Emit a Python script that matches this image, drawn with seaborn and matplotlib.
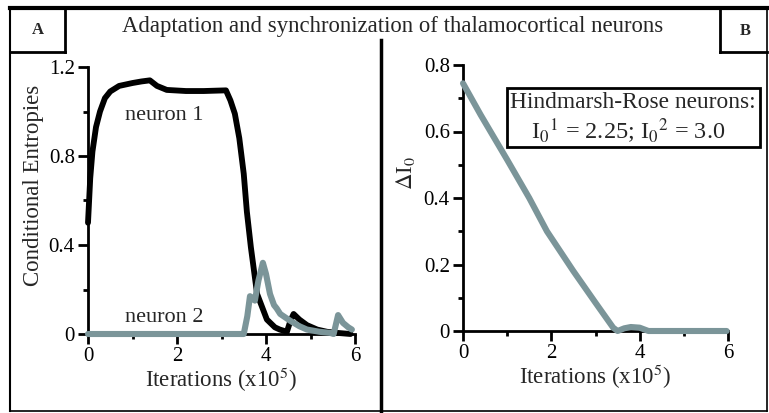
import numpy as np
import pandas as pd
import matplotlib
matplotlib.use("Agg")
import matplotlib.pyplot as plt
import seaborn as sns
from matplotlib.lines import Line2D
from matplotlib.patches import Rectangle

# ---------------- data ----------------
n1_x = [0.0, 0.05, 0.1, 0.18, 0.27, 0.38, 0.5, 0.7, 1.0, 1.2, 1.39, 1.55, 1.77, 2.2, 2.6, 3.1, 3.2, 3.3,
        3.4, 3.5, 3.57, 3.66, 3.8, 4.02, 4.2, 4.31, 4.47, 4.55, 4.62, 4.75, 4.92, 5.15, 5.37, 5.6, 5.9]
n1_y = [0.50, 0.70, 0.82, 0.93, 1.00, 1.06, 1.09, 1.115, 1.128, 1.135, 1.14, 1.115, 1.097, 1.092, 1.092, 1.095, 1.05, 0.99,
        0.88, 0.72, 0.55, 0.39, 0.18, 0.065, 0.03, 0.02, 0.01, 0.06, 0.09, 0.065, 0.04, 0.02, 0.01, 0.005, 0.0]

n2_x = [0.0, 1.0, 2.0, 3.0, 3.5, 3.58, 3.64, 3.7, 3.75, 3.83, 3.93, 4.0, 4.09, 4.18, 4.24, 4.32, 4.54, 4.75, 4.92,
        5.2, 5.44, 5.52, 5.62, 5.73, 5.85, 5.93]
n2_y = [0.0, 0.0, 0.0, 0.0, 0.0, 0.08, 0.17, 0.16, 0.15, 0.24, 0.32, 0.27, 0.18, 0.13, 0.115, 0.09, 0.06, 0.035, 0.02,
        0.01, 0.005, 0.0, 0.085, 0.05, 0.03, 0.02]

dI_x = [0.0, 0.4, 1.0, 1.5, 1.9, 2.5, 3.0, 3.4, 3.5, 3.65, 3.8, 4.0, 4.2, 4.6, 5.0, 5.5, 5.97]
dI_y = [0.745, 0.65, 0.515, 0.40, 0.30, 0.18, 0.085, 0.01, 0.0, 0.008, 0.012, 0.01, 0.0, 0.0, 0.0, 0.0, 0.0]

xticks = [0, 2, 4, 6]
yticksA = [0, 0.4, 0.8, 1.2]
yticksB = [0, 0.2, 0.4, 0.6, 0.8]

# ---------------- style ----------------
sns.set_style("ticks")
plt.rcParams['font.family'] = ['Liberation Serif', 'DejaVu Serif']
plt.rcParams['mathtext.fontset'] = 'stix'

BLACK = '#000000'
GRAY = '#7B9599'

W, H = 769, 413
fig = plt.figure(figsize=(W / 100, H / 100), dpi=100)

def fx(px):
    return px / W

def fy(py):
    return 1 - py / H

axA = fig.add_axes([fx(88), fy(334), fx(355) - fx(88), fy(67) - fy(334)])
axB = fig.add_axes([fx(463), fy(331), fx(728) - fx(463), fy(65) - fy(331)])

dfA1 = pd.DataFrame({'x': n1_x, 'y': n1_y})
dfA2 = pd.DataFrame({'x': n2_x, 'y': n2_y})
dfB = pd.DataFrame({'x': dI_x, 'y': dI_y})

sns.lineplot(data=dfA1, x='x', y='y', ax=axA, color=BLACK, linewidth=4.2, clip_on=False, zorder=3)
sns.lineplot(data=dfA2, x='x', y='y', ax=axA, color=GRAY, linewidth=4.4, clip_on=False, zorder=4)
sns.lineplot(data=dfB, x='x', y='y', ax=axB, color=GRAY, linewidth=4.4, clip_on=False, zorder=4)

for ax, yt, ylim in [(axA, yticksA, (0, 1.2)), (axB, yticksB, (0, 0.8))]:
    ax.set_xlim(0, 6)
    ax.set_ylim(*ylim)
    ax.set_xticks(xticks)
    ax.set_xticklabels([str(t) for t in xticks])
    ax.set_xticks([1, 3, 5], minor=True)
    ax.set_yticks(yt)
    ax.set_yticklabels([('%g' % t) for t in yt])
    step = yt[1] - yt[0]
    ax.set_yticks([t + step / 2 for t in yt[:-1]], minor=True)
    for s in ['top', 'right']:
        ax.spines[s].set_visible(False)
    for s in ['left', 'bottom']:
        ax.spines[s].set_linewidth(2.0)
        ax.spines[s].set_color('black')
    ax.tick_params(axis='both', which='major', direction='out', length=7, width=2.0,
                   labelsize=15, colors='black', pad=2.5)
    ax.tick_params(axis='both', which='minor', direction='out', length=3.5, width=2.0, colors='black')
    ax.set_facecolor('none')
    ax.set_xlabel('Iterations (x10$^{5}$)', fontsize=16.5, labelpad=-1)

axA.set_ylabel('Conditional Entropies', fontsize=16.5)
axA.yaxis.set_label_coords(-0.165, 0.558)
axB.set_ylabel(r'$\Delta$I$_0$', fontsize=16.5)
axB.yaxis.set_label_coords(-0.172, 0.594)

axA.text(1.71, 0.98, 'neuron 1', fontsize=16, ha='center', va='center')
axA.text(1.71, 0.075, 'neuron 2', fontsize=16, ha='center', va='center')

# ---------------- frame and panel boxes ----------------
def fline(x0, y0, x1, y1, lw):
    fig.add_artist(Line2D([fx(x0), fx(x1)], [fy(y0), fy(y1)], color='black', linewidth=lw,
                          solid_capstyle='projecting'))

fline(10, 8, 767, 8, 3.0)       # top
fline(10, 8, 10, 411, 1.5)      # left
fline(10, 411, 767, 411, 1.2)   # bottom
fline(767, 8, 767, 411, 1.2)    # right
fline(65, 8, 65, 52, 2.0)       # A box right
fline(10, 52, 65, 52, 2.0)      # A box bottom
fline(720, 8, 720, 52, 2.0)     # B box left
fline(720, 52, 767, 52, 2.0)    # B box bottom
fline(381, 40, 381, 411, 2.5)   # divider

fig.text(fx(38), fy(30), 'A', fontsize=12, fontweight='bold', ha='center', va='center')
fig.text(fx(745), fy(31), 'B', fontsize=12, fontweight='bold', ha='center', va='center')
fig.text(fx(393), fy(32), 'Adaptation and synchronization of thalamocortical neurons',
         fontsize=16.4, ha='center', va='baseline')

# annotation box in panel B
fig.add_artist(Rectangle((fx(507), fy(147)), fx(760) - fx(507), fy(88) - fy(147),
                         transform=fig.transFigure, fill=False, edgecolor='black', linewidth=2.0))
fig.text(fx(633), fy(103), 'Hindmarsh-Rose neurons:', fontsize=16.8, ha='center', va='center')
fig.text(fx(628), fy(131), r'I$_0$$^1$ = 2.25; I$_0$$^2$ = 3.0', fontsize=17.5, ha='center', va='center')

fig.savefig('out.png', dpi=100)
